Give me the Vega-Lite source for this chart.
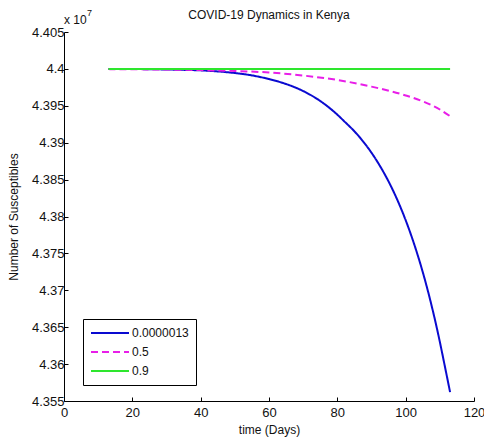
{
  "$schema": "https://vega.github.io/schema/vega-lite/v6.json",
  "width": 410,
  "height": 369,
  "autosize": {"type": "none"},
  "padding": {"left": 64, "top": 32, "right": 10, "bottom": 41},
  "background": "white",
  "config": {
    "view": {"stroke": null},
    "font": "Liberation Sans",
    "axis": {
      "domainColor": "black",
      "tickColor": "black",
      "labelColor": "#111",
      "labelFontSize": 13,
      "titleFontSize": 12,
      "titleFontWeight": "normal",
      "titleColor": "#111",
      "grid": false,
      "labelOverlap": false,
      "labelFont": "Liberation Sans",
      "titleFont": "Liberation Sans"
    }
  },
  "title": {
    "text": "COVID-19 Dynamics in Kenya",
    "fontSize": 12,
    "fontWeight": "normal",
    "font": "Liberation Sans",
    "color": "#111",
    "anchor": "middle",
    "offset": -13
  },
  "resolve": {"axis": {"x": "independent", "y": "independent"}},
  "data": {
    "values": [
      {"t": 13, "S": 44000000, "series": "0.0000013"},
      {"t": 20, "S": 43999800, "series": "0.0000013"},
      {"t": 25, "S": 43999600, "series": "0.0000013"},
      {"t": 30, "S": 43999200, "series": "0.0000013"},
      {"t": 35, "S": 43998700, "series": "0.0000013"},
      {"t": 40, "S": 43998000, "series": "0.0000013"},
      {"t": 45, "S": 43996600, "series": "0.0000013"},
      {"t": 50, "S": 43994400, "series": "0.0000013"},
      {"t": 55, "S": 43991200, "series": "0.0000013"},
      {"t": 60, "S": 43986200, "series": "0.0000013"},
      {"t": 65, "S": 43979500, "series": "0.0000013"},
      {"t": 70, "S": 43970000, "series": "0.0000013"},
      {"t": 75, "S": 43956500, "series": "0.0000013"},
      {"t": 80, "S": 43938000, "series": "0.0000013"},
      {"t": 82, "S": 43929100, "series": "0.0000013"},
      {"t": 85, "S": 43915400, "series": "0.0000013"},
      {"t": 87, "S": 43904800, "series": "0.0000013"},
      {"t": 90, "S": 43886400, "series": "0.0000013"},
      {"t": 92, "S": 43872100, "series": "0.0000013"},
      {"t": 95, "S": 43847400, "series": "0.0000013"},
      {"t": 97, "S": 43828300, "series": "0.0000013"},
      {"t": 100, "S": 43795000, "series": "0.0000013"},
      {"t": 102, "S": 43769300, "series": "0.0000013"},
      {"t": 105, "S": 43724700, "series": "0.0000013"},
      {"t": 107, "S": 43690200, "series": "0.0000013"},
      {"t": 109, "S": 43651400, "series": "0.0000013"},
      {"t": 110, "S": 43630200, "series": "0.0000013"},
      {"t": 111, "S": 43607700, "series": "0.0000013"},
      {"t": 113, "S": 43562000, "series": "0.0000013"},
      {"t": 13, "S": 43999700, "series": "0.5"},
      {"t": 20, "S": 43999500, "series": "0.5"},
      {"t": 30, "S": 43999100, "series": "0.5"},
      {"t": 40, "S": 43998400, "series": "0.5"},
      {"t": 50, "S": 43997200, "series": "0.5"},
      {"t": 60, "S": 43995100, "series": "0.5"},
      {"t": 70, "S": 43991000, "series": "0.5"},
      {"t": 80, "S": 43985000, "series": "0.5"},
      {"t": 90, "S": 43976000, "series": "0.5"},
      {"t": 100, "S": 43964000, "series": "0.5"},
      {"t": 105, "S": 43956000, "series": "0.5"},
      {"t": 110, "S": 43945000, "series": "0.5"},
      {"t": 113, "S": 43936000, "series": "0.5"},
      {"t": 13, "S": 44000000, "series": "0.9"},
      {"t": 63, "S": 44000000, "series": "0.9"},
      {"t": 113, "S": 44000000, "series": "0.9"}
    ]
  },
  "layer": [
    {
      "mark": {"type": "line", "strokeWidth": 2, "clip": true, "interpolate": "monotone"},
      "encoding": {
        "x": {
          "field": "t", "type": "quantitative",
          "scale": {"domain": [0, 120], "nice": false, "zero": false},
          "axis": {"title": "time (Days)", "values": [0, 20, 40, 60, 80, 100, 120], "tickSize": -4, "labelPadding": 9, "titlePadding": 5, "labelFlush": false, "labelOverlap": false}
        },
        "y": {
          "field": "S", "type": "quantitative",
          "scale": {"domain": [43550000, 44050000], "nice": false, "zero": false},
          "axis": {
            "title": "Number of Susceptibles",
            "values": [43550000, 43600000, 43650000, 43700000, 43750000, 43800000, 43850000, 43900000, 43950000, 44000000, 44050000],
            "labelExpr": "'' + (round(datum.value / 10000) / 1000)",
            "labelOverlap": false,
            "tickSize": -4, "labelPadding": 4, "titlePadding": 11, "labelFlush": false
          }
        },
        "color": {
          "field": "series", "type": "nominal",
          "scale": {"domain": ["0.0000013", "0.5", "0.9"], "range": ["#0a0ad0", "#e81ee8", "#2ee62e"]},
          "legend": {
            "title": null,
            "orient": "none",
            "legendX": 19,
            "legendY": 287,
            "symbolType": "stroke",
            "symbolSize": 1444,
            "symbolStrokeWidth": 2,
            "labelFontSize": 12,
            "labelColor": "#111",
            "labelOffset": 2,
            "strokeColor": "black",
            "fillColor": "white",
            "padding": 7,
            "rowPadding": 5,
            "clipHeight": 14
          }
        },
        "strokeDash": {
          "field": "series", "type": "nominal",
          "scale": {"domain": ["0.0000013", "0.5", "0.9"], "range": [[1, 0], [7, 4], [1, 0]]},
          "legend": {
            "title": null,
            "orient": "none",
            "legendX": 19,
            "legendY": 287,
            "symbolType": "stroke",
            "symbolSize": 1444,
            "symbolStrokeWidth": 2,
            "labelFontSize": 12,
            "labelColor": "#111",
            "labelOffset": 2,
            "strokeColor": "black",
            "fillColor": "white",
            "padding": 7,
            "rowPadding": 5,
            "clipHeight": 14
          }
        }
      }
    },
    {
      "data": {"values": [{"x": 0, "y": 44050000, "label": "x 10"}]},
      "mark": {"type": "text", "align": "left", "baseline": "alphabetic", "dy": -8, "fontSize": 12, "color": "#111", "font": "Liberation Sans"},
      "encoding": {
        "x": {"field": "x", "type": "quantitative", "axis": null},
        "y": {"field": "y", "type": "quantitative", "axis": null},
        "text": {"field": "label"}
      }
    },
    {
      "data": {"values": [{"x": 0, "y": 44050000, "label": "7"}]},
      "mark": {"type": "text", "align": "left", "baseline": "alphabetic", "dx": 23, "dy": -16, "fontSize": 9, "color": "#111", "font": "Liberation Sans"},
      "encoding": {
        "x": {"field": "x", "type": "quantitative", "axis": null},
        "y": {"field": "y", "type": "quantitative", "axis": null},
        "text": {"field": "label"}
      }
    }
  ]
}
